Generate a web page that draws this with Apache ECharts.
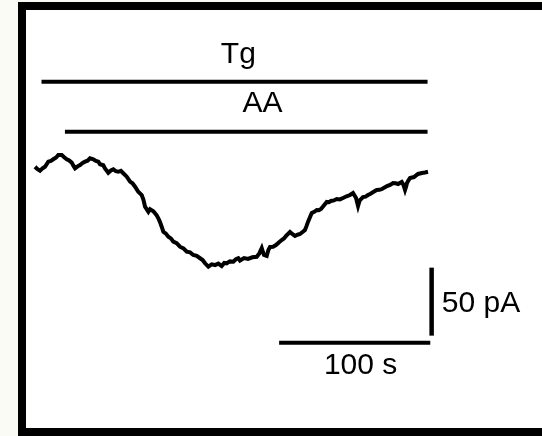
<!DOCTYPE html>
<html>
<head>
<meta charset="utf-8">
<script src="https://cdn.jsdelivr.net/npm/echarts@6/dist/echarts.min.js"></script>
<style>
  html, body { margin: 0; padding: 0; background: #fbfbf6; }
  #frame { position: absolute; left: 18px; top: 2px; width: 524px; height: 434px; box-sizing: border-box;
           border-left: 8px solid #000; border-top: 8px solid #000; border-bottom: 8px solid #000; background: #fff; }
  #chart { position: absolute; left: 0; top: 0; width: 542px; height: 436px; }
</style>
</head>
<body>
<div id="frame"></div>
<div id="chart"></div>
<script>
// Trace: time (s) and membrane current (pA), relative to the starting level
const time = [0,1.5,3.3,5,6.6,8.8,10.5,12.1,14,15.4,16.5,17.7,19.3,21.0,22.6,24.3,25.4,26.5,28.2,29.8,31.5,33.1,34.8,36.4,37.5,38.6,40.3,41.9,43,44.1,45.2,46.3,47.4,48.5,50.2,51.8,53.5,55.1,56.8,58.4,59.5,60.7,61.8,62.9,64.5,66.2,67.3,68.3,69.5,70.6,71.7,72.8,73.9,75.0,76.1,77.2,78.3,79.4,80.5,81.6,82.7,83.8,84.4,84.9,86.6,88.2,89.9,91.5,93.7,95.9,98.2,100.4,102.6,104.7,107,109.2,110.9,112.5,113.6,114.7,116.9,119.1,121.3,123.5,125.2,126.8,129,131.2,132.9,134.5,135.6,138.3,140.9,143.8,146.7,148.4,150.0,150.8,151.5,152.4,153.3,154.4,155.5,157.5,159.4,161.3,163.2,164.7,166.1,167.4,168.7,170.4,172.0,173.7,175.3,177,178.6,179.6,180.6,181.9,183.1,184.8,186.4,187.8,189.2,191.1,193.0,194.4,195.8,197.7,199.6,201.7,203.8,206.1,208.4,209.4,210.4,211.4,212.4,213.1,213.7,214.4,215.0,216,217.0,218.7,220.3,221.7,223.0,224.6,226.1,227.9,229.6,231.3,232.9,234.9,236.9,238.6,240.2,241.4,242.6,243.7,244.8,245.5,246.1,247.1,248.1,249.4,250.7,252,253.4,254.7,256.0,257,258.0,259,260.0];
const current = [0.2,-1.5,-2.7,-1.0,0.2,3.9,4.5,5.7,7.0,8.8,7.9,8.8,7.2,5.7,4.8,3.2,1.0,-1.0,0.5,1.5,3.0,3.9,4.6,6.4,5.2,5.7,4.5,3.9,2.0,0.7,1.3,-1.0,-2.0,-4.2,-2.5,-1.7,-3.0,-3.5,-2.8,-4.6,-5.6,-7.1,-8.0,-10.8,-12.0,-14.5,-15.3,-18.2,-18.8,-20.6,-24.0,-29.2,-30.0,-32.9,-31.0,-30.4,-32.5,-34.0,-35.5,-37.7,-40.5,-43.9,-45.0,-47.6,-49.0,-51.3,-52.5,-54.9,-56.0,-58.6,-59.8,-62.3,-62.8,-64.7,-65.4,-67.1,-68.4,-70.8,-71.5,-73.3,-71.6,-72.1,-71.0,-72.8,-70.5,-70.8,-69.4,-69.6,-67.8,-67.1,-68.8,-67.0,-67.6,-66.4,-66.0,-63.5,-59.6,-62.5,-64.7,-64.0,-65.4,-61.0,-58.8,-58.6,-57.4,-55.5,-53.7,-52.6,-50.7,-49.5,-47.8,-49.4,-50.7,-49.8,-49.3,-47.8,-46.3,-43.5,-40.4,-37.0,-33.8,-32.9,-31.6,-31.8,-30.9,-28.3,-25.7,-25.9,-25.0,-24.6,-23.5,-23.8,-22.8,-21.5,-20.6,-20.0,-19.1,-20.4,-22.8,-26.0,-28.7,-26.0,-24.3,-23.5,-22.1,-21.8,-20.6,-19.8,-18.4,-17.9,-16.9,-16.8,-16.2,-15.0,-14.0,-13.2,-11.8,-12.0,-12.5,-11.4,-11.0,-13.0,-16.9,-14.5,-11.8,-9.8,-8.1,-8.0,-7.4,-6.5,-5.1,-5.0,-4.4,-4.6,-4.0,-3.7,-3.5];

// Drug application bars (s, pA level)
const barNames = ['Tg', 'AA'];
const barStart = [4.3, 19.8];
const barEnd = [259.7, 259.7];
const barLevel = [62.7, 26.0];
const barLabelT = [134.5, 150.5];
const barLabelI = [82.7, 46.2];

// Scale bars
const timeScale = 100;      // s
const currentScale = 50;    // pA
const timeBarStart = 161.5;
const timeBarLevel = -129.2;
const currentBarT = 262.4;
const currentBarBottom = -124;
const timeLabel = '100 s';
const currentLabel = '50 pA';
const timeLabelPos = [215.4, -146.3];
const currentLabelPos = [269.1, -100.2];

const FONT = 'Liberation Sans, Arial, Helvetica, sans-serif';
const chart = echarts.init(document.getElementById('chart'), null, { renderer: 'canvas' });

const lineStyleBlack = (w) => ({ color: '#000', width: w, cap: 'butt' });
const series = [];

series.push({
  type: 'line', data: time.map((t, i) => [t, current[i]]),
  symbol: 'none', silent: true, clip: false,
  lineStyle: { color: '#000', width: 4, join: 'miter' }
});

barNames.forEach((n, i) => {
  series.push({
    type: 'line', data: [[barStart[i], barLevel[i]], [barEnd[i], barLevel[i]]],
    symbol: 'none', silent: true, clip: false, lineStyle: lineStyleBlack(4)
  });
});

series.push({
  type: 'line', data: [[timeBarStart, timeBarLevel], [timeBarStart + timeScale, timeBarLevel]],
  symbol: 'none', silent: true, clip: false, lineStyle: lineStyleBlack(4)
});
series.push({
  type: 'line', data: [[currentBarT, currentBarBottom], [currentBarT, currentBarBottom + currentScale]],
  symbol: 'none', silent: true, clip: false, lineStyle: lineStyleBlack(4.5)
});

const labelPoints = barNames.map((n, i) => ({ name: n, value: [barLabelT[i], barLabelI[i]], align: 'center' }));
labelPoints.push({ name: timeLabel, value: timeLabelPos, align: 'center' });
labelPoints.push({ name: currentLabel, value: currentLabelPos, align: 'left' });

series.push({
  type: 'scatter', symbolSize: 0, silent: true, clip: false,
  itemStyle: { color: '#000' },
  data: labelPoints.map(p => ({
    name: p.name, value: p.value,
    label: { show: true, position: 'inside', formatter: p.name, align: p.align, verticalAlign: 'middle',
             color: '#000000', opacity: 1, textBorderWidth: 0, fontSize: 30, fontFamily: FONT }
  }))
});

chart.setOption({
  animation: false,
  backgroundColor: 'transparent',
  grid: { left: 35, top: 31, width: 483.7, height: 353.6, show: false },
  xAxis: { type: 'value', min: 0, max: 320, show: false },
  yAxis: { type: 'value', min: -160, max: 100, show: false },
  series: series
});
</script>
</body>
</html>
